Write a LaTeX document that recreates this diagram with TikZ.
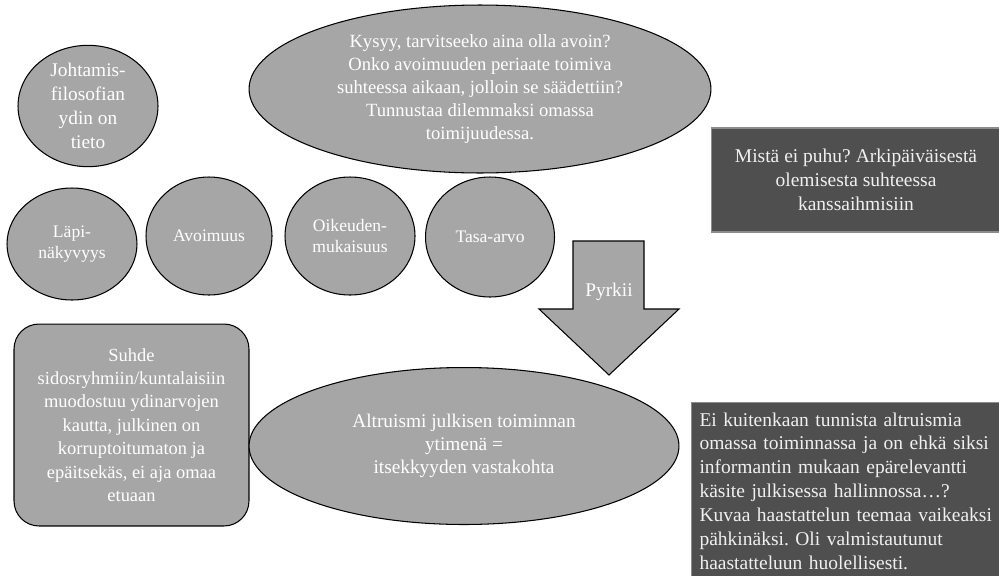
\documentclass[tikz,border=0pt]{standalone}
\usepackage{fontspec}
\setmainfont{Liberation Serif}
\usetikzlibrary{shapes.geometric,positioning}
\frenchspacing

\begin{document}
\begin{tikzpicture}
[x=0.02cm,y=-0.02cm,
 oval/.style={ellipse,draw=black,fill=black!35,line width=0.6pt,inner sep=0pt,
    text=white,align=center,font=\fontsize{10.8}{13.2}\selectfont},
 value/.style={oval,font=\fontsize{10}{11.5}\selectfont},
 darkbox/.style={rectangle,draw=black!45,fill=black!69,line width=0.6pt,
    text=white!94!black,font=\fontsize{11.1}{13.6}\selectfont}]
\useasboundingbox (0,0) rectangle (999,575);

\node[oval,minimum width=2.8cm,minimum height=2.38cm,font=\fontsize{11}{13.7}\selectfont] (ydin) at (88,106)
{Johtamis-\\filosofian\\ydin on\\tieto};
\node[oval,minimum width=9.24cm,minimum height=3.36cm,font=\fontsize{10.6}{13}\selectfont] (kysyy) at (480,89)
{Kysyy, tarvitseeko aina olla avoin?\\Onko avoimuuden periaate toimiva\\suhteessa aikaan, jolloin se säädettiin?\\Tunnustaa dilemmaksi omassa\\toimijuudessa.};

\node[value,minimum width=2.6cm,minimum height=2.24cm] (lapi) at (72,244) {Läpi-\\näkyvyys};
\node[value,minimum width=2.52cm,minimum height=2.36cm] (avoin) at (209,236) {Avoimuus};
\node[value,minimum width=2.6cm,minimum height=2.36cm] (oikeus) at (350,236) {Oikeuden-\\mukaisuus};
\node[value,minimum width=2.58cm,minimum height=2.4cm] (tasa) at (490,237) {Tasa-arvo};

\node[darkbox,align=center,minimum width=5.8cm,minimum height=2.08cm] (mista) at (856,180)
{Mistä ei puhu? Arkipäiväisestä\\olemisesta suhteessa\\kanssaihmisiin};

% pyrkii-nuoli
\draw[fill=black!35,line width=0.6pt] (573,241) -- (644,241) -- (644,309) -- (679,309)
  -- (609,375) -- (539,309) -- (573,309) -- cycle;
\node[text=white,font=\fontsize{11}{13}\selectfont] (pyrkii) at (609,292) {Pyrkii};

\node[oval,rectangle,rounded corners=0.5cm,minimum width=4.7cm,minimum height=4.04cm,
  font=\fontsize{10.5}{13.3}\selectfont] (suhde) at (131.5,425)
{Suhde\\sidosryhmiin/kuntalaisiin\\muodostuu ydinarvojen\\kautta, julkinen on\\korruptoitumaton ja\\epäitsekäs, ei aja omaa\\etuaan};
\node[oval,minimum width=8.6cm,minimum height=3.14cm,font=\fontsize{11}{13.3}\selectfont] (altru) at (464,446)
{Altruismi julkisen toiminnan\\ytimenä =\\itsekkyyden vastakohta};

\node[darkbox,anchor=north west,align=left,inner xsep=0.16cm,inner ysep=0.2cm,text width=5.98cm] (ei) at (691,402)
{Ei kuitenkaan tunnista altruismia\\omassa toiminnassa ja on ehkä siksi\\informantin mukaan epärelevantti\\käsite julkisessa hallinnossa\dots?\\Kuvaa haastattelun teemaa vaikeaksi\\pähkinäksi. Oli valmistautunut\\haastatteluun huolellisesti.};
\end{tikzpicture}
\end{document}
